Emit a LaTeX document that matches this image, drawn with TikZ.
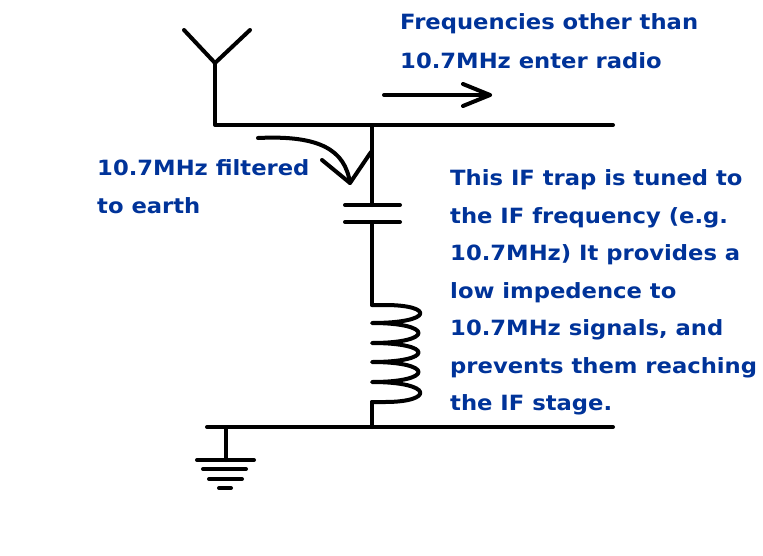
\documentclass[tikz,border=0pt]{standalone}
\usepackage{fontspec}
\setmainfont{DejaVu Sans}
\usetikzlibrary{arrows.meta}
\definecolor{txtblue}{RGB}{0,51,153}
\tikzset{wire/.style={line width=4pt,line cap=round,line join=round},
  lbl/.style={anchor=west,inner sep=0pt,text=txtblue,font=\fontsize{21}{21}\selectfont\bfseries,xscale=1.08}}
\begin{document}
\begin{tikzpicture}[x=1pt,y=-1pt]
\useasboundingbox (0,0) rectangle (763,555);
\coordinate (ant) at (215,63);
\coordinate (tl) at (215,125);
\coordinate (tr) at (613,125);
\coordinate (j1) at (372,125);
\coordinate (c1) at (372,205);
\coordinate (c2) at (372,222);
\coordinate (l1) at (372,305);
\coordinate (l2) at (372,402);
\coordinate (j2) at (372,427);
\coordinate (bl) at (207,427);
\coordinate (br) at (613,427);
\coordinate (g0) at (226,427);
\coordinate (g1) at (226,460);
% antenna
\draw[wire] (184,30) -- (ant) -- (250,30);
\draw[wire] (ant) -- (tl) -- (tr);
\draw[wire] (j1) -- (c1);
\draw[wire] (345,205) -- (400,205);
\draw[wire] (345,222) -- (400,222);
\draw[wire] (c2) -- (l1);
% inductor
\draw[wire] (l1) -- (385,305)
  .. controls (434,305) and (434,323) .. (372,323)
  .. controls (434,323) and (434,343) .. (372,343)
  .. controls (434,343) and (434,362) .. (372,362)
  .. controls (434,362) and (434,382) .. (372,382)
  .. controls (434,382) and (434,402) .. (385,402) -- (l2);
\draw[wire] (l2) -- (j2);
\draw[wire] (bl) -- (br);
% ground
\draw[wire] (g0) -- (g1);
\draw[wire] (197,460) -- (254,460);
\draw[wire] (203,469) -- (246,469);
\draw[wire] (209,479) -- (242,479);
\draw[wire] (219,488) -- (231,488);
% curved arrow
\coordinate (ca0) at (258,138);
\coordinate (ca1) at (350,183);
\draw[wire] (ca0) .. controls (320,135) and (345,150) .. (ca1);
\draw[wire] (322,160) -- (ca1) -- (371,152);
% right arrow
\coordinate (ra0) at (384,95);
\coordinate (ra1) at (490,95);
\draw[wire] (ra0) -- (ra1);
\draw[wire] (463,84) -- (ra1) -- (463,106);
% texts
\node[lbl] (t1) at (400,24) {Frequencies other than};
\node[lbl] (t2) at (400,61) {10.7MHz enter radio};
\node[lbl] (t3) at (97,168) {10.7MHz filtered};
\node[lbl] (t4) at (97,206) {to earth};
\node[lbl] (r1) at (450,180) {This IF trap is tuned to};
\node[lbl] (r2) at (450,218) {the IF frequency (e.g.};
\node[lbl] (r3) at (450,255) {10.7MHz) It provides a};
\node[lbl] (r4) at (450,293) {low impedence to};
\node[lbl] (r5) at (450,330) {10.7MHz signals, and};
\node[lbl] (r6) at (450,368) {prevents them reaching};
\node[lbl] (r7) at (450,405) {the IF stage.};
\end{tikzpicture}
\end{document}
